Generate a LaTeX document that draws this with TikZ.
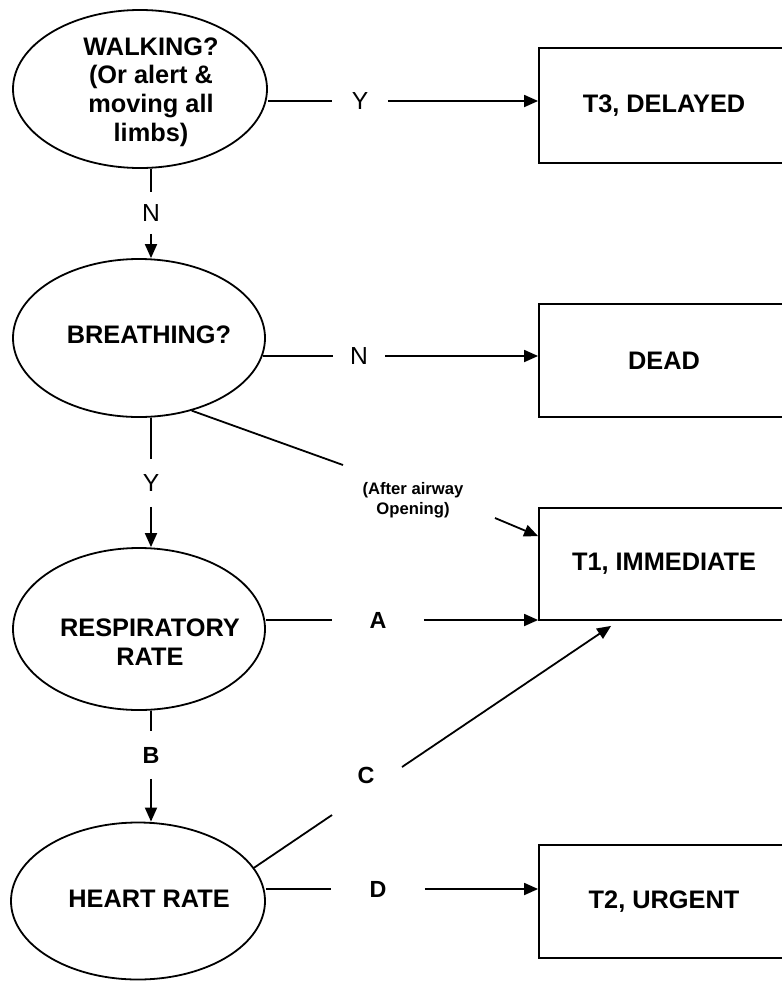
\documentclass[tikz,border=0pt]{standalone}
\usepackage{fontspec}
\setmainfont{Liberation Sans}
\usetikzlibrary{shapes.geometric,arrows.meta,calc}

\begin{document}
\begin{tikzpicture}[x=0.75pt,y=-0.75pt,
  line width=1.35pt,
  question/.style={ellipse,draw,inner sep=0pt},
  qtext/.style={align=center,inner sep=0pt,font=\fontsize{19}{21.5}\selectfont\bfseries},
  outcome/.style={rectangle,draw,inner sep=0pt,minimum width=187.5pt,minimum height=85pt,
    font=\fontsize{19}{21}\selectfont\bfseries},
  yn/.style={inner sep=0pt,font=\fontsize{18.5}{20}\selectfont},
  abcd/.style={inner sep=0pt,font=\fontsize{17.5}{20}\selectfont\bfseries},
  note/.style={align=center,inner sep=0pt,font=\fontsize{12.5}{15}\selectfont\bfseries},
  tip/.style={-{Triangle[length=10.5pt,width=9pt]}}
]
\useasboundingbox (0,0) rectangle (782,982);
\clip (0,0) rectangle (782,982);

% decision ellipses
\node[question,minimum width=190.5pt,minimum height=118.5pt] (walk)   at (140,89)  {};
\node[question,minimum width=189pt,minimum height=118.5pt]   (breath) at (139,338) {};
\node[question,minimum width=189pt,minimum height=121.5pt]   (resp)   at (139,629) {};
\node[question,minimum width=190.5pt,minimum height=117.75pt](heart)  at (138,901) {};

\node[qtext] (walktxt)   at ($(walk)+(11,3)$)    {WALKING?\\(Or alert \&\\moving all\\limbs)};
\node[qtext] (breathtxt) at ($(breath)+(10,-3)$) {BREATHING?};
\node[qtext] (resptxt)   at ($(resp)+(11,13)$)   {RESPIRATORY\\RATE};
\node[qtext] (hearttxt)  at ($(heart)+(11,-2)$)  {HEART RATE};

% triage categories
\node[outcome,minimum height=86.25pt] (t3)   at (664,105.5) {T3, DELAYED};
\node[outcome,minimum height=84.75pt] (dead) at (664,360.5) {DEAD};
\node[outcome,minimum height=84pt]    (t1)   at (664,564)   {T1, IMMEDIATE};
\node[outcome,minimum height=84.75pt] (t2)   at (664,901.5) {T2, URGENT};

% branch labels (the node width leaves the gap in the connector)
\node[yn,minimum width=40.5pt]  (ylab)  at (360,101) {Y};
\node[yn,minimum width=38pt]    (nlab)  at (359,356) {N};
\node[abcd,minimum width=67.5pt](alab)  at (378,620) {A};
\node[abcd,minimum width=69pt]  (dlab)  at (378,889) {D};
\node[yn,minimum height=30pt]   (n1lab) at (151,213) {N};
\node[yn,minimum height=34.5pt] (y2lab) at (151,483) {Y};
\node[abcd,minimum height=34.5pt](blab) at (151,755) {B};
\node[abcd] (clab) at (366,775) {C};
\node[note] (aw) at (413,500) {(After airway\\Opening)};

% free ends of the broken diagonal connectors
\coordinate (aw1) at (343,465);
\coordinate (aw2) at (495,518);
\coordinate (c1)  at (332,815);
\coordinate (c2)  at (402,767);

% horizontal branches
\draw (ylab.west -| walk.east) -- (ylab.west);
\draw[tip] (ylab.east) -- (ylab.east -| t3.west);
\draw (nlab.west -| breath.-8) -- (nlab.west);
\draw[tip] (nlab.east) -- (nlab.east -| dead.west);
\draw (alab.west -| resp.east) -- (alab.west);
\draw[tip] (alab.east) -- (alab.east -| t1.south west);
\draw (dlab.west -| heart.east) -- (dlab.west);
\draw[tip] (dlab.east) -- (dlab.east -| t2.west);

% vertical branches
\draw (n1lab.north |- walk.south) -- (n1lab.north);
\draw[tip] (n1lab.south) -- (n1lab.south |- breath.north);
\draw (y2lab.north |- breath.south) -- (y2lab.north);
\draw[tip] (y2lab.south) -- (y2lab.south |- resp.north);
\draw (blab.north |- resp.south) -- (blab.north);
\draw[tip] (blab.south) -- (blab.south |- heart.north);

% diagonal branches
\draw (breath.-54) -- (aw1);
\draw[tip] (aw2) -- ($(t1.north west)+(0,29)$);
\draw (heart.16) -- (c1);
\draw[tip] (c2) -- ($(t1.south west)+(73,5)$);
\end{tikzpicture}
\end{document}
